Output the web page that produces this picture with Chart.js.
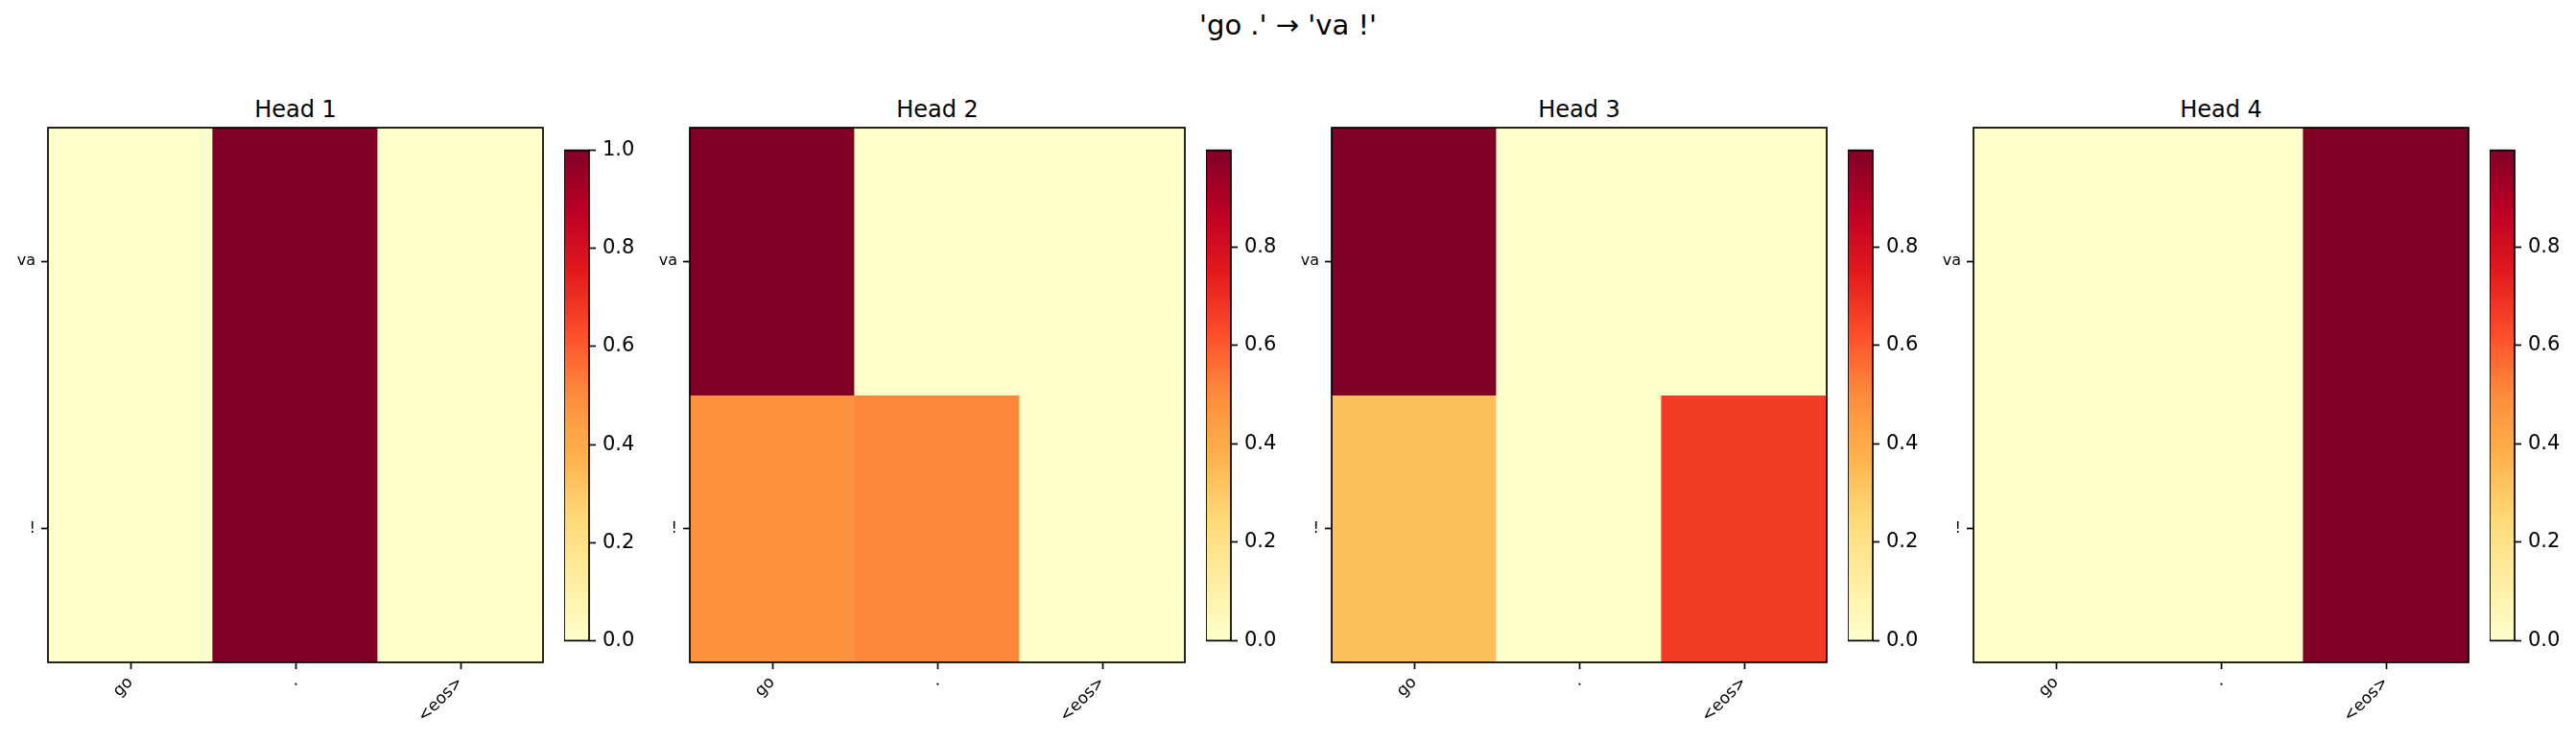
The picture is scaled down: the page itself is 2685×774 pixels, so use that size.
<!DOCTYPE html>
<html>
<head>
<meta charset="utf-8">
<script src="https://cdn.jsdelivr.net/npm/chart.js@4.4.1/dist/chart.umd.min.js"></script>
<style>
  body { margin: 0; background: #fff; }
  #fig { position: relative; width: 2685px; height: 774px; overflow: hidden; font-family: 'DejaVu Sans', sans-serif; color: #000; }
  #fig canvas { position: absolute; }
  .txt { position: absolute; white-space: nowrap; text-align: center; }
</style>
</head>
<body>
<div id="fig"></div>
<script>
// tokens and attention weights (rows = target, columns = source)
const srcTokens = ['go', '.', '<eos>'];
const tgtTokens = ['va', '!'];
const headNames = ['Head 1', 'Head 2', 'Head 3', 'Head 4'];
const head1 = [[0.0, 1.0, 0.0], [0.0, 1.0, 0.0]];
const head2 = [[0.996, 0.0, 0.0], [0.48, 0.51, 0.0]];
const head3 = [[0.996, 0.0, 0.0], [0.33, 0.0, 0.665]];
const head4 = [[0.0, 0.0, 0.996], [0.0, 0.0, 0.996]];
const heads = [head1, head2, head3, head4];
const cbarTicks = [0.0, 0.2, 0.4, 0.6, 0.8, 1.0];
const suptitle = "'go .' \u2192 'va !'";

// YlOrRd
const cmapStops = ['#ffffcc', '#ffeda0', '#fed976', '#feb24c', '#fd8d3c', '#fc4e2a', '#e31a1c', '#bd0026', '#800026'];

function hexToRgb(h) {
    return [parseInt(h.slice(1, 3), 16), parseInt(h.slice(3, 5), 16), parseInt(h.slice(5, 7), 16)];
}
const cmapRgb = cmapStops.map(hexToRgb);

function cmap(t) {
    t = Math.min(1, Math.max(0, t));
    const pos = t * (cmapRgb.length - 1);
    const i = Math.min(Math.floor(pos), cmapRgb.length - 2);
    const f = pos - i;
    const a = cmapRgb[i], b = cmapRgb[i + 1];
    const c = a.map((v, k) => Math.round(v + (b[k] - v) * f));
    return 'rgb(' + c.join(',') + ')';
}

Chart.defaults.font.family = "'DejaVu Sans', sans-serif";
Chart.defaults.color = '#000';

// layout (px)
const plotLefts = [50, 719, 1388, 2057];
const plotTop = 133, plotW = 516, plotH = 557;
const cbOffset = 538, cbTop = 153, cbW = 26, cbH = 518;
const YW = 50, PT = 20, PR = 10, XH = 80;
const CBAX = 70, CBPAD = 16;

const fig = document.getElementById('fig');

// black frame around the plot area, like matplotlib spines
const framePlugin = {
    id: 'frame',
    afterDatasetsDraw(chart) {
        const a = chart.chartArea;
        const ctx = chart.ctx;
        ctx.save();
        ctx.strokeStyle = '#000';
        ctx.lineWidth = 1.7;
        ctx.strokeRect(a.left, a.top, a.right - a.left, a.bottom - a.top);
        ctx.restore();
    }
};

function addText(text, left, top, width, size) {
    const d = document.createElement('div');
    d.className = 'txt';
    d.textContent = text;
    d.style.left = left + 'px';
    d.style.top = top + 'px';
    d.style.width = width + 'px';
    d.style.fontSize = size + 'px';
    d.style.lineHeight = size + 'px';
    fig.appendChild(d);
}

function addCanvas(left, top, w, h) {
    const c = document.createElement('canvas');
    c.width = w;
    c.height = h;
    c.style.left = left + 'px';
    c.style.top = top + 'px';
    c.style.width = w + 'px';
    c.style.height = h + 'px';
    fig.appendChild(c);
    return c;
}

addText(suptitle, 0, 12, 2685, 29);

heads.forEach((vals, h) => {
    const flat = vals.flat();
    const vmin = Math.min(...flat);
    const vmax = Math.max(...flat);
    const left = plotLefts[h];

    addText(headNames[h], left, 102, plotW, 24);

    // heatmap
    const hc = addCanvas(left - YW, plotTop - PT, YW + plotW + PR, PT + plotH + XH);
    new Chart(hc, {
        type: 'bar',
        data: {
            labels: srcTokens,
            datasets: vals.map((row, r) => ({
                data: row.map(() => [r - 0.5, r + 0.5]),
                backgroundColor: row.map(v => cmap((v - vmin) / (vmax - vmin))),
                borderWidth: 0,
                inflateAmount: 0.6,
                barPercentage: 1,
                categoryPercentage: 1,
                grouped: false
            }))
        },
        options: {
            responsive: false,
            animation: false,
            devicePixelRatio: 1,
            layout: { padding: { top: PT, right: PR, left: 0, bottom: 0 } },
            plugins: { legend: { display: false }, tooltip: { enabled: false } },
            scales: {
                x: {
                    grid: { display: true, offset: false, drawOnChartArea: false, tickLength: 7, tickWidth: 1.7, tickColor: '#000' },
                    border: { display: false },
                    ticks: { font: { size: 17 }, minRotation: 45, maxRotation: 45, padding: 4 },
                    afterFit: s => { s.height = XH; }
                },
                y: {
                    min: -0.5,
                    max: 1.5,
                    reverse: true,
                    grid: { display: true, drawOnChartArea: false, tickLength: 7, tickWidth: 1.7, tickColor: '#000' },
                    border: { display: false },
                    afterBuildTicks: s => { s.ticks = tgtTokens.map((t, i) => ({ value: i })); },
                    ticks: { font: { size: 16 }, padding: 6, callback: v => tgtTokens[v] },
                    afterFit: s => { s.width = YW; }
                }
            }
        },
        plugins: [framePlugin]
    });

    // colorbar
    const cc = addCanvas(left + cbOffset, cbTop - CBPAD, cbW + CBAX, cbH + 2 * CBPAD);
    new Chart(cc, {
        type: 'bar',
        data: {
            labels: [''],
            datasets: [{
                data: [[vmin, vmax]],
                backgroundColor: ctx => {
                    const a = ctx.chart.chartArea;
                    if (!a) return null;
                    const g = ctx.chart.ctx.createLinearGradient(0, a.bottom, 0, a.top);
                    cmapStops.forEach((c, i) => g.addColorStop(i / (cmapStops.length - 1), c));
                    return g;
                },
                borderWidth: 0,
                barPercentage: 1,
                categoryPercentage: 1
            }]
        },
        options: {
            responsive: false,
            animation: false,
            devicePixelRatio: 1,
            layout: { padding: { top: CBPAD, bottom: CBPAD, left: 0, right: 0 } },
            plugins: { legend: { display: false }, tooltip: { enabled: false } },
            scales: {
                x: { display: false },
                y: {
                    position: 'right',
                    min: vmin,
                    max: vmax,
                    grid: { display: true, drawOnChartArea: false, tickLength: 7, tickWidth: 1.7, tickColor: '#000' },
                    border: { display: false },
                    afterBuildTicks: s => { s.ticks = cbarTicks.filter(t => t >= vmin - 1e-9 && t <= vmax + 1e-9).map(t => ({ value: t })); },
                    ticks: { font: { size: 21 }, padding: 7, callback: v => v.toFixed(1) },
                    afterFit: s => { s.width = CBAX; }
                }
            }
        },
        plugins: [framePlugin]
    });
});
</script>
</body>
</html>
